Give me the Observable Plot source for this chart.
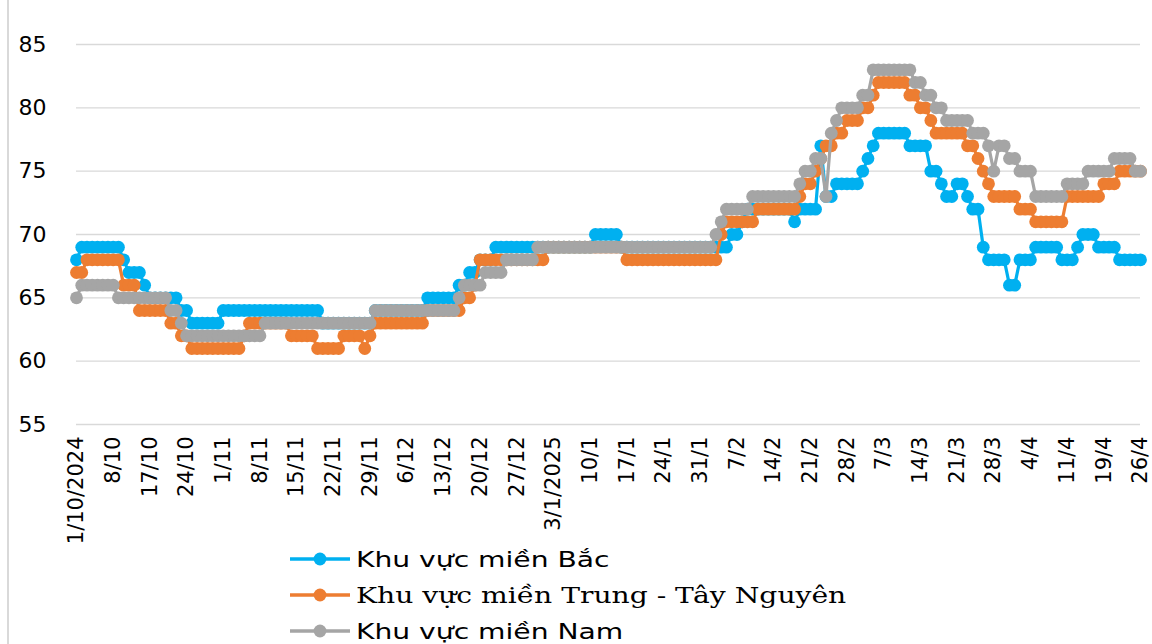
<!DOCTYPE html>
<html>
<head>
<meta charset="utf-8">
<script src="https://cdn.jsdelivr.net/npm/d3@7"></script>
<script src="https://cdn.jsdelivr.net/npm/@observablehq/plot@0.6"></script>
<style>
  html, body { margin: 0; padding: 0; background: #fff; }
  #wrap { position: relative; width: 1152px; height: 644px; overflow: hidden; }
  #frame { position: absolute; left: 7px; top: 0; width: 2px; height: 644px; background: #d9d9d9; }
  #legend { position: absolute; left: 288px; top: 541px; }
  .row { height: 36px; display: flex; align-items: center; }
  .lab { display: inline-block; font-size: 22px; color: #000; transform: scaleX(1.28); transform-origin: left center; white-space: nowrap; margin-left: 4px; }
</style>
</head>
<body>
<div id="wrap">
  <div id="chart"></div>
  <div id="frame"></div>
  <div id="legend"></div>
</div>
<script>
// Tick labels (one every 7 observations)
const xLabels = ["1/10/2024","8/10","17/10","24/10","1/11","8/11","15/11","22/11","29/11","6/12","13/12","20/12","27/12","3/1/2025","10/1","17/1","24/1","31/1","7/2","14/2","21/2","28/2","7/3","14/3","21/3","28/3","4/4","11/4","19/4","26/4"];
const yTicks = [55, 60, 65, 70, 75, 80, 85];

const seriesNames = ["Khu vực miền Bắc", "Khu vực miền Trung - Tây Nguyên", "Khu vực miền Nam"];
const seriesColors = ["#00b0f0", "#ed7d31", "#a5a5a5"];
const legendFonts = ["'DejaVu Sans', sans-serif", "'DejaVu Serif', serif", "'DejaVu Sans', sans-serif"];

// Khu vực miền Bắc
const north = [
  68,69,69,69,69,69,69,
  69,69,68,67,67,67,66,
  65,65,65,65,65,65,64,
  64,63,63,63,63,63,63,
  64,64,64,64,64,64,64,
  64,64,64,64,64,64,64,
  64,64,64,64,64,63,63,
  63,63,63,63,63,63,63,
  63,64,64,64,64,64,64,
  64,64,64,64,65,65,65,
  65,65,65,66,66,67,67,
  68,68,68,69,69,69,69,
  69,69,69,69,69,69,69,
  69,69,69,69,69,69,69,
  69,70,70,70,70,70,69,
  69,69,69,69,69,69,69,
  69,69,69,69,69,69,69,
  69,69,69,69,69,69,70,
  70,71,72,72,72,72,72,
  72,72,72,72,71,72,72,
  72,72,77,73,73,74,74,
  74,74,74,75,76,77,78,
  78,78,78,78,78,77,77,
  77,77,75,75,74,73,73,
  74,74,73,72,72,69,68,
  68,68,68,66,66,68,68,
  68,69,69,69,69,69,68,
  68,68,69,70,70,70,69,
  69,69,69,68,68,68,68,
  68
];

// Khu vực miền Trung - Tây Nguyên
const central = [
  67,67,68,68,68,68,68,
  68,68,66,66,66,64,64,
  64,64,64,64,63,63,62,
  62,61,61,61,61,61,61,
  61,61,61,61,62,63,63,
  63,63,63,63,63,63,62,
  62,62,62,62,61,61,61,
  61,61,62,62,62,62,61,
  62,63,63,63,63,63,63,
  63,63,63,63,64,64,64,
  64,64,64,64,65,65,66,
  68,68,68,68,68,68,68,
  68,68,68,68,68,68,69,
  69,69,69,69,69,69,69,
  69,69,69,69,69,69,69,
  68,68,68,68,68,68,68,
  68,68,68,68,68,68,68,
  68,68,68,68,70,71,71,
  71,71,71,71,72,72,72,
  72,72,72,72,72,73,74,
  74,75,76,77,77,78,78,
  79,79,79,80,80,81,82,
  82,82,82,82,82,81,81,
  80,80,79,78,78,78,78,
  78,78,77,77,76,75,74,
  73,73,73,73,73,72,72,
  72,71,71,71,71,71,71,
  73,73,73,73,73,73,73,
  74,74,74,75,75,75,75,
  75
];

// Khu vực miền Nam
const south = [
  65,66,66,66,66,66,66,
  66,65,65,65,65,65,65,
  65,65,65,65,64,64,63,
  62,62,62,62,62,62,62,
  62,62,62,62,62,62,62,
  62,63,63,63,63,63,63,
  63,63,63,63,63,63,63,
  63,63,63,63,63,63,63,
  63,64,64,64,64,64,64,
  64,64,64,64,64,64,64,
  64,64,64,65,66,66,66,
  66,67,67,67,67,68,68,
  68,68,68,68,69,69,69,
  69,69,69,69,69,69,69,
  69,69,69,69,69,69,69,
  69,69,69,69,69,69,69,
  69,69,69,69,69,69,69,
  69,69,69,70,71,72,72,
  72,72,72,73,73,73,73,
  73,73,73,73,73,74,75,
  75,76,76,73,78,79,80,
  80,80,80,81,81,83,83,
  83,83,83,83,83,83,82,
  82,81,81,80,80,79,79,
  79,79,79,78,78,78,77,
  75,77,77,76,76,75,75,
  75,73,73,73,73,73,73,
  74,74,74,74,75,75,75,
  75,75,76,76,76,76,75,
  75
];

const seriesValues = [north, central, south];
const rows = seriesValues.flatMap((vals, s) => vals.map((v, i) => ({i, v, s: seriesNames[s]})));
const tickIdx = xLabels.map((_, k) => k * 7);

const marks = [
  Plot.gridY(yTicks, {stroke: "#d9d9d9", strokeOpacity: 1, strokeWidth: 1.3}),
  Plot.axisY(yTicks, {tickSize: 0, tickPadding: 30, fontSize: 22, fill: "#000", label: null}),
  Plot.axisX(tickIdx, {tickSize: 0, tickPadding: 12, tickRotate: -90, fontSize: 21, fill: "#000", label: null,
    tickFormat: i => xLabels[Math.round(i / 7)]})
];
seriesNames.forEach((name, s) => {
  const d = rows.filter(r => r.s === name);
  marks.push(Plot.line(d, {x: "i", y: "v", stroke: seriesColors[s], strokeWidth: 3.2}));
  marks.push(Plot.dot(d, {x: "i", y: "v", fill: seriesColors[s], r: 6.4, stroke: "none"}));
});

const chart = Plot.plot({
  width: 1152,
  height: 545,
  marginLeft: 76,
  marginRight: 12,
  marginTop: 44,
  marginBottom: 121,
  style: {fontFamily: "'DejaVu Sans', sans-serif", background: "transparent", color: "#000"},
  x: {domain: [0, 203], axis: null},
  y: {domain: [55, 85], axis: null},
  marks
});
document.getElementById("chart").appendChild(chart);

// Legend
const legend = document.getElementById("legend");
seriesNames.forEach((name, s) => {
  const row = document.createElement("div");
  row.className = "row";
  row.innerHTML = `<svg width="64" height="20"><line x1="2" y1="10" x2="62" y2="10" stroke="${seriesColors[s]}" stroke-width="3.5"/><circle cx="32" cy="10" r="6.4" fill="${seriesColors[s]}"/></svg>`;
  const lab = document.createElement("span");
  lab.className = "lab";
  lab.style.fontFamily = legendFonts[s];
  lab.textContent = name;
  row.appendChild(lab);
  legend.appendChild(row);
});
</script>
</body>
</html>
